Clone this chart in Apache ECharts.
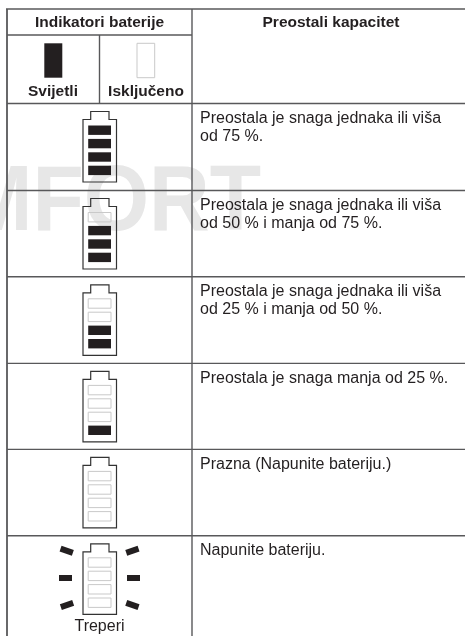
<!DOCTYPE html>
<html>
<head>
<meta charset="utf-8">
<style>
  html, body { margin: 0; padding: 0; background: #fff; }
  #chart { width: 465px; height: 636px; }
</style>
</head>
<body>
<div id="chart"></div>
<script src="https://cdn.jsdelivr.net/npm/echarts@6/dist/echarts.min.js"></script>
<script>
// table content
const headerIndicators = 'Indikatori baterije'
const headerCapacity = 'Preostali kapacitet'
const legendLabels = ['Svijetli', 'Isključeno']
const rowTexts = [
  ['Preostala je snaga jednaka ili viša', 'od 75 %.'],
  ['Preostala je snaga jednaka ili viša', 'od 50 % i manja od 75 %.'],
  ['Preostala je snaga jednaka ili viša', 'od 25 % i manja od 50 %.'],
  ['Preostala je snaga manja od 25 %.'],
  ['Prazna (Napunite bateriju.)'],
  ['Napunite bateriju.']
]
const litCells = [4, 3, 2, 1, 0, 0]
const flashing = [false, false, false, false, false, true]
const flashLabel = 'Treperi'
const watermark = 'MFORT'

// layout, in page pixels (the axes below run 0-465 and 0-636)
const rowEdges = [103.5, 190.5, 276.8, 363.4, 449.4, 535.8]
const FONT = '"Liberation Sans", Arial, sans-serif'
const INK = '#231f20'
const RULE = '#58585a'
const PALE = '#c9c9c9'

const chart = echarts.init(document.getElementById('chart'))

const rulesRender = (params, api) => {
  const line = (x1, y1, x2, y2, w) => {
    const a = api.coord([x1, y1])
    const b = api.coord([x2, y2])
    return {
      type: 'line',
      shape: { x1: a[0], y1: a[1], x2: b[0], y2: b[1] },
      style: { stroke: RULE, lineWidth: w }
    }
  }
  const children = [
    line(6, 9, 465, 9, 1.4),
    line(7, 9, 7, 636, 1.8),
    line(192, 9, 192, 636, 1.4),
    line(7, 35, 192, 35, 1.4),
    line(99.5, 35, 99.5, 103.5, 1.4)
  ]
  rowEdges.forEach((y) => children.push(line(7, y, 465, y, 1.4)))
  return { type: 'group', children }
}

const batteryRender = (params, api) => {
  const row = api.value(0)
  const lit = api.value(1)
  const top = rowEdges[row] + 8
  const at = (x, y) => api.coord([x, y])
  const children = [{
    type: 'polygon',
    shape: {
      points: [
        at(83, top + 8), at(90.7, top + 8), at(90.7, top), at(109, top), at(109, top + 8),
        at(116.5, top + 8), at(116.5, top + 70.5), at(83, top + 70.5)
      ]
    },
    style: { fill: 'none', stroke: '#333', lineWidth: 1.2 }
  }]
  for (let i = 0; i < 4; i++) {
    const p = at(88.2, top + 14 + i * 13.4)
    const on = 3 - i < lit
    children.push({
      type: 'rect',
      shape: { x: p[0], y: p[1], width: 22.8, height: 9.4 },
      style: on ? { fill: INK } : { fill: 'none', stroke: PALE, lineWidth: 1 }
    })
  }
  if (flashing[row]) {
    const rays = [
      [66.7, 550.8, -0.33], [132.4, 550.8, 0.33],
      [65.5, 578, 0], [133.5, 578, 0],
      [67, 605, 0.33], [132.4, 605, -0.33]
    ]
    rays.forEach(([x, y, r]) => {
      const p = at(x, y)
      children.push({
        type: 'rect',
        x: p[0],
        y: p[1],
        rotation: r,
        shape: { x: -6.5, y: -3, width: 13, height: 6 },
        style: { fill: INK }
      })
    })
  }
  return { type: 'group', children }
}

const textRender = (params, api) => {
  const text = (str, x, y, size, weight, align) => {
    const p = api.coord([x, y])
    return {
      type: 'text',
      x: p[0],
      y: p[1],
      style: {
        text: str,
        font: `${weight} ${size}px ${FONT}`,
        fill: INK,
        align,
        verticalAlign: 'middle'
      }
    }
  }
  const children = [
    text(headerIndicators, 99.5, 22.7, 15.5, 'bold', 'center'),
    text(headerCapacity, 331, 22.7, 15.5, 'bold', 'center'),
    text(legendLabels[0], 53, 91.7, 15.5, 'bold', 'center'),
    text(legendLabels[1], 146, 91.7, 15.5, 'bold', 'center'),
    text(flashLabel, 99.5, 627, 16, 'normal', 'center')
  ]
  rowTexts.forEach((lines, r) => {
    lines.forEach((str, i) => {
      children.push(text(str, 200, rowEdges[r] + 14.7 + i * 18.5, 16, 'normal', 'left'))
    })
  })
  return { type: 'group', children }
}

chart.setOption({
  animation: false,
  backgroundColor: '#fff',
  grid: { left: 0, right: 0, top: 0, bottom: 0 },
  xAxis: { type: 'value', min: 0, max: 465, show: false },
  yAxis: { type: 'value', min: 0, max: 636, inverse: true, show: false },
  series: [
    {
      // pale letters behind the table
      type: 'custom',
      silent: true,
      data: [[0, 0]],
      renderItem: (params, api) => {
        const p = api.coord([261, 204.5])
        return {
          type: 'text',
          x: p[0],
          y: p[1],
          scaleY: 1.1,
          style: {
            text: watermark,
            font: `bold 84px ${FONT}`,
            fill: '#e7e7e7',
            align: 'right',
            verticalAlign: 'middle'
          }
        }
      }
    },
    { type: 'custom', silent: true, data: [[0, 0]], renderItem: rulesRender },
    {
      type: 'custom',
      silent: true,
      data: litCells.map((n, i) => [i, n]),
      renderItem: batteryRender
    },
    {
      // legend swatches
      type: 'custom',
      silent: true,
      data: [[0, 0]],
      renderItem: (params, api) => {
        const a = api.coord([44.3, 43.3])
        const b = api.coord([137, 43.3])
        return {
          type: 'group',
          children: [
            { type: 'rect', shape: { x: a[0], y: a[1], width: 18, height: 34.4 }, style: { fill: INK } },
            { type: 'rect', shape: { x: b[0], y: b[1], width: 17.7, height: 34.4 }, style: { fill: 'none', stroke: PALE, lineWidth: 1 } }
          ]
        }
      }
    },
    { type: 'custom', silent: true, data: [[0, 0]], renderItem: textRender }
  ]
})
</script>
</body>
</html>
